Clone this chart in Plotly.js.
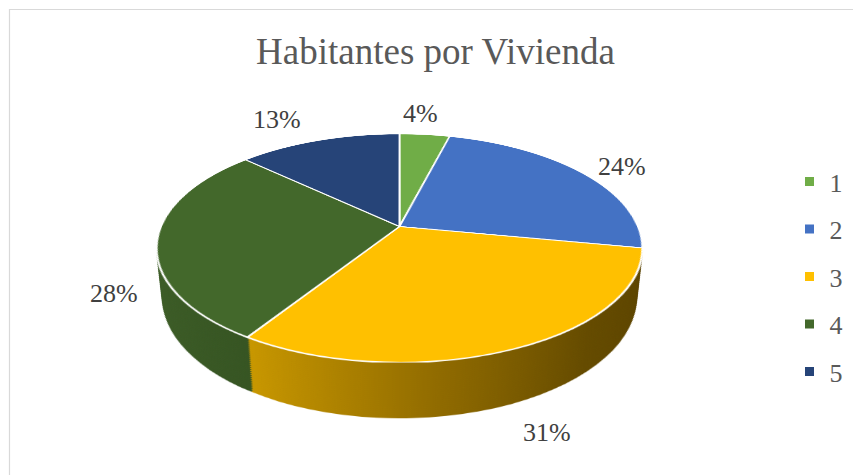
<!DOCTYPE html>
<html>
<head>
<meta charset="utf-8">
<script src="https://cdn.plot.ly/plotly-3.0.1.min.js"></script>
<style>
html,body{margin:0;padding:0;background:#fff;overflow:hidden;}
#wrap{position:relative;width:853px;height:475px;overflow:hidden;}
#base{position:absolute;left:0;top:0;width:853px;height:475px;}
.layer{position:absolute;width:477px;height:477px;left:160.5px;top:-12.5px;transform-origin:50% 50%;}
</style>
</head>
<body>
<div id="wrap"><div id="base"></div></div>
<script>
// ---- data ----
const labels = ['1', '2', '3', '4', '5'];
const values = [4, 24, 31, 28, 13];
const topColors = ['#70AD47', '#4472C4', '#FFC000', '#43682B', '#264478'];
const sideColors = ['#4E7A31', '#2C4F8C', '#9A7300', '#37561F', '#1A3054'];
const chartTitle = 'Habitantes por Vivienda';

// ---- layout constants ----
const W = 853, H = 475;
const serif = 'Liberation Serif, Times New Roman, serif';
const labelPos = [[420, 113], [622, 167], [547, 432], [114, 293], [277, 119]];
const NLAYERS = 28, DEPTH = 56;
const T3D = z => `perspective(1113px) rotateX(62.5deg) translateZ(${z}px)`;

const total = values.reduce((a, b) => a + b, 0);

// ---- base plot: title, frame, percentage labels, legend ----
const legendTraces = labels.map((lab, i) => ({
  type: 'scatter', x: [null], y: [null], mode: 'markers', name: lab,
  legendgroup: 'g' + i, hoverinfo: 'skip',
  marker: {symbol: 'square', size: 9, color: topColors[i]}
}));

const annotations = values.map((v, i) => ({
  text: Math.round(v * 100 / total) + '%',
  xref: 'paper', yref: 'paper',
  x: labelPos[i][0] / W, y: 1 - labelPos[i][1] / H,
  xanchor: 'center', yanchor: 'middle', showarrow: false,
  font: {family: serif, size: 26, color: '#404040'}
}));

const baseLayout = {
  width: W, height: H,
  margin: {l: 0, r: 0, t: 0, b: 0},
  paper_bgcolor: '#ffffff', plot_bgcolor: 'rgba(0,0,0,0)',
  xaxis: {visible: false, range: [0, 1], fixedrange: true},
  yaxis: {visible: false, range: [0, 1], fixedrange: true},
  title: {
    text: chartTitle, xref: 'paper', yref: 'container',
    x: 435.5 / W, xanchor: 'center', y: 1 - 51 / H, yanchor: 'middle',
    font: {family: serif, size: 37, color: '#595959'}
  },
  showlegend: true,
  legend: {
    x: 789.5 / W, xanchor: 'left', y: 1 - 158 / H, yanchor: 'top',
    traceorder: 'grouped', tracegroupgap: 10.7,
    bgcolor: 'rgba(0,0,0,0)', borderwidth: 0,
    font: {family: serif, size: 26, color: '#595959'}
  },
  annotations: annotations,
  shapes: [{
    type: 'rect', xref: 'paper', yref: 'paper',
    x0: 9.5 / W, x1: 1.05, y0: -0.05, y1: 1 - 9.5 / H,
    line: {color: '#d9d9d9', width: 1.2}, fillcolor: 'rgba(0,0,0,0)'
  }]
};

Plotly.newPlot('base', legendTraces, baseLayout, {staticPlot: true});

// ---- 3D pie built from stacked pie layers ----
const wrap = document.getElementById('wrap');

function addGradient(svg, id, stops) {
  const ns = 'http://www.w3.org/2000/svg';
  let defs = svg.querySelector('defs');
  if (!defs) { defs = document.createElementNS(ns, 'defs'); svg.insertBefore(defs, svg.firstChild); }
  const g = document.createElementNS(ns, 'linearGradient');
  g.setAttribute('id', id);
  g.setAttribute('x1', '0'); g.setAttribute('y1', '0');
  g.setAttribute('x2', '1'); g.setAttribute('y2', '0');
  stops.forEach(([o, c]) => {
    const s = document.createElementNS(ns, 'stop');
    s.setAttribute('offset', o); s.setAttribute('stop-color', c);
    g.appendChild(s);
  });
  defs.appendChild(g);
}

function makeLayer(z, isTop, k) {
  const div = document.createElement('div');
  div.className = 'layer';
  div.style.transform = T3D(z);
  wrap.appendChild(div);
  return Plotly.newPlot(div, [{
    type: 'pie', values: values, labels: labels,
    sort: false, direction: 'clockwise', rotation: 0,
    textinfo: 'none', hoverinfo: 'skip', showlegend: false,
    marker: {
      colors: isTop ? topColors : sideColors,
      line: {color: '#ffffff', width: isTop ? 2 : 0}
    }
  }], {
    width: 477, height: 477,
    margin: {l: 0, r: 0, t: 0, b: 0},
    paper_bgcolor: 'rgba(0,0,0,0)', plot_bgcolor: 'rgba(0,0,0,0)',
    showlegend: false
  }, {staticPlot: true}).then(() => {
    if (isTop) return;
    const svg = div.querySelector('svg.main-svg');
    addGradient(svg, 'gy' + k, [[0, '#C89700'], [0.45, '#8F6A00'], [0.8, '#654B00'], [1, '#5C4400']]);
    addGradient(svg, 'gg' + k, [[0, '#3C5C26'], [1, '#2F4C1E']]);
    const paths = div.querySelectorAll('g.slice path.surface');
    if (paths[2]) paths[2].style.fill = 'url(#gy' + k + ')';
    if (paths[3]) paths[3].style.fill = 'url(#gg' + k + ')';
  });
}

(async () => {
  for (let k = NLAYERS; k >= 1; k--) {
    await makeLayer(-DEPTH * k / NLAYERS, false, k);
  }
  await makeLayer(0, true, 0);
})();
</script>
</body>
</html>
